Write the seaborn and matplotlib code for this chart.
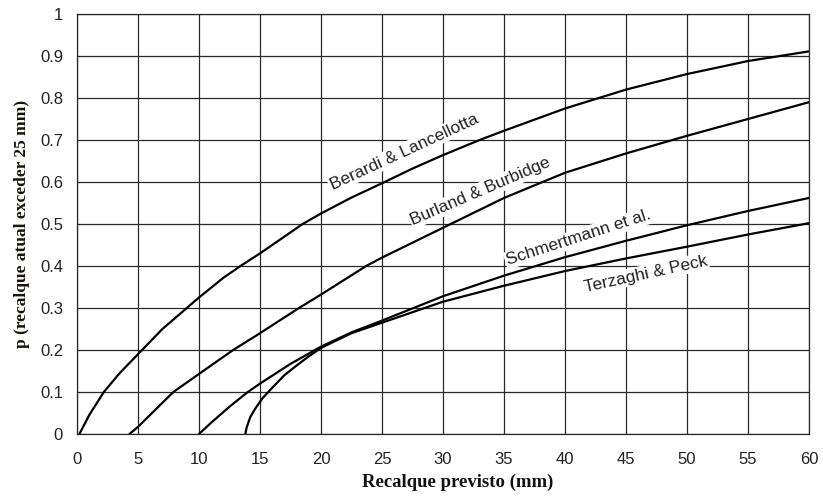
import matplotlib
matplotlib.use("Agg")
import matplotlib.pyplot as plt
import seaborn as sns
import pandas as pd

# ---- data ----
berardi_x = [0.2, 1.0, 2.2, 3.5, 5.0, 7.0, 9.0, 10.0, 12.0, 13.4, 15.0, 18.5, 20.0, 22.5, 25.0, 27.5, 30.0, 33.0, 35.0, 40.0, 45.0, 50.0, 55.0, 60.0]
berardi_y = [0.0, 0.045, 0.10, 0.145, 0.19, 0.25, 0.30, 0.325, 0.372, 0.40, 0.43, 0.50, 0.525, 0.563, 0.597, 0.632, 0.664, 0.70, 0.722, 0.775, 0.82, 0.857, 0.888, 0.911]

burland_x = [4.3, 5.0, 6.5, 7.9, 10.0, 12.8, 15.0, 18.2, 20.0, 23.7, 25.0, 30.0, 35.0, 40.0, 45.0, 50.0, 55.0, 60.0]
burland_y = [0.0, 0.017, 0.06, 0.10, 0.143, 0.20, 0.24, 0.30, 0.332, 0.40, 0.42, 0.491, 0.562, 0.622, 0.668, 0.71, 0.75, 0.79]

schmert_x = [10.0, 11.0, 12.5, 14.0, 15.0, 17.5, 20.0, 22.5, 25.0, 30.0, 35.0, 40.0, 45.0, 50.0, 55.0, 60.0]
schmert_y = [0.0, 0.027, 0.065, 0.10, 0.12, 0.167, 0.208, 0.242, 0.27, 0.328, 0.377, 0.421, 0.460, 0.497, 0.531, 0.562]

terzaghi_x = [13.8, 13.9, 14.2, 14.6, 15.2, 16.0, 17.0, 18.0, 19.0, 20.0, 22.5, 25.0, 30.0, 35.0, 40.0, 45.0, 50.0, 55.0, 60.0]
terzaghi_y = [0.0, 0.015, 0.04, 0.06, 0.085, 0.11, 0.14, 0.163, 0.185, 0.205, 0.24, 0.265, 0.315, 0.353, 0.388, 0.418, 0.446, 0.475, 0.502]

series_names = ["Berardi & Lancellotta", "Burland & Burbidge", "Schmertmann et al.", "Terzaghi & Peck"]
x_ticks = [0, 5, 10, 15, 20, 25, 30, 35, 40, 45, 50, 55, 60]
y_ticks = [0, 0.1, 0.2, 0.3, 0.4, 0.5, 0.6, 0.7, 0.8, 0.9, 1]
y_tick_labels = ["0", "0.1", "0.2", "0.3", "0.4", "0.5", "0.6", "0.7", "0.8", "0.9", "1"]
x_label = "Recalque previsto (mm)"
y_label = "p (recalque atual exceder 25 mm)"

# label positions (x, y, rotation in degrees)
label_pos = [(26.8, 0.672, 24.8), (33.1, 0.578, 23.2), (41.1, 0.467, 17.9), (46.6, 0.381, 12.3)]

frames = []
for name, xs, ys in zip(series_names,
                        [berardi_x, burland_x, schmert_x, terzaghi_x],
                        [berardi_y, burland_y, schmert_y, terzaghi_y]):
    frames.append(pd.DataFrame({"x": xs, "y": ys, "curve": name}))
df = pd.concat(frames, ignore_index=True)

sns.set_style("white")
plt.rcParams["font.family"] = ["Liberation Sans", "DejaVu Sans"]

fig = plt.figure(figsize=(8.23, 4.98), dpi=100)
ax = fig.add_axes([77 / 823, 1 - 434 / 498, 732 / 823, 420 / 498])

sns.lineplot(data=df, x="x", y="y", units="curve", estimator=None, sort=False,
             color="black", linewidth=1.6, ax=ax, zorder=4, legend=False)

for name, (tx, ty, rot) in zip(series_names, label_pos):
    ax.text(tx, ty, name, rotation=rot, rotation_mode="anchor", ha="center", va="center",
            fontsize=12.5, color="#222222", zorder=3,
            bbox=dict(facecolor="white", edgecolor="none", pad=1.0))

ax.set_xlim(0, 60)
ax.set_ylim(0, 1)
ax.set_xticks(x_ticks)
ax.set_yticks(y_ticks)
ax.set_yticklabels(y_tick_labels)
ax.grid(True, color="#2a2a2a", linewidth=0.9, zorder=1)
ax.set_axisbelow(True)
for s in ax.spines.values():
    s.set_color("#2a2a2a")
    s.set_linewidth(0.9)
ax.tick_params(axis="x", length=9, width=0.9, color="#2a2a2a", pad=4, labelsize=12, labelcolor="#222222")
ax.tick_params(axis="y", length=6.5, width=0.9, color="#2a2a2a", pad=3.5, labelsize=12, labelcolor="#222222")

ax.set_xlabel(x_label, fontsize=13.5, fontweight="bold", family=["Liberation Serif", "DejaVu Serif"],
              color="#111111", labelpad=8)
ax.xaxis.set_label_coords(0.52, -0.115)
ax.xaxis.label.set_va("center")
ax.set_ylabel(y_label, fontsize=12.5, fontweight="bold", family=["Liberation Serif", "DejaVu Serif"],
              color="#1a1408", labelpad=7)

fig.savefig("out.png", dpi=100)
